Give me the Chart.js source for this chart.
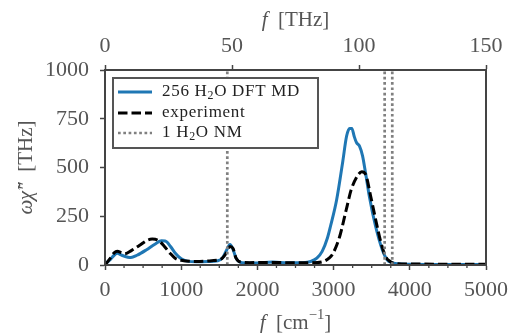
<!DOCTYPE html>
<html><head><meta charset="utf-8">
<script src="https://cdn.jsdelivr.net/npm/chart.js@4"></script>
<style>html,body{margin:0;padding:0;background:#fff}#w{width:515px;height:333px}</style>
</head><body><div id="w"><canvas id="c" width="515" height="333"></canvas></div>
<script>
// ---- data (cm^-1, THz) ----
const mdX = [0,60,120,160,220,300,340,420,540,660,740,790,860,920,1000,1080,1200,1350,1480,1540,1600,1640,1680,1720,1760,1850,2000,2200,2400,2600,2700,2780,2850,2920,2960,3040,3120,3170,3210,3240,3270,3300,3340,3380,3420,3470,3550,3640,3700,3760,3850,4000,4500,5000];
const mdY = [5,25,50,60,50,40,38,50,77,108,124,123,95,62,32,20,17,18,22,35,80,105,80,35,17,10,10,15,11,12,18,35,70,140,200,335,530,660,700,700,660,628,610,560,470,350,200,77,28,12,6,4,3,3];
const expX = [0,60,120,160,220,260,350,450,560,620,700,780,850,920,1000,1200,1400,1520,1580,1640,1680,1720,1780,1900,2100,2400,2700,2860,2940,2993,3079,3165,3230,3295,3370,3420,3488,3553,3618,3682,3747,3811,4000,5000];
const expY = [0,30,62,70,62,58,75,100,128,133,126,95,62,35,24,18,22,30,55,95,85,35,15,12,13,12,11,17,35,60,145,282,385,445,478,465,350,231,120,43,17,8,5,4];
const nmModes = [1605,3670,3770];
const seriesLabels = ['256 H₂O DFT MD','experiment','1 H₂O NM'];
const yTicksMax = 1000, xMax = 5000, thzMax = 150;

const pts = (xs, ys) => xs.map((x,i)=>({x, y: ys[i]}));
const FONT = '"Liberation Serif", "DejaVu Serif", serif';
const TXT = '#555';
const AX = '#444';
const plain = (v) => String(v);

const datasets = [
  {label: seriesLabels[0], data: pts(mdX, mdY), borderColor:'#1f77b4', borderWidth:3, pointRadius:0, cubicInterpolationMode:'monotone', order:2},
  {label: seriesLabels[1], data: pts(expX, expY), borderColor:'#000', borderWidth:3, borderDash:[9.5,4], pointRadius:0, cubicInterpolationMode:'monotone', order:1}
];
nmModes.forEach((m,i)=>datasets.push({label: i===0?seriesLabels[2]:'', data:[{x:m,y:0},{x:m,y:yTicksMax}], borderColor:'#808080', borderWidth:2.7, borderDash:[2.7,2.6], pointRadius:0, order:0}));

function setFont(ctx, p, size) {
  let s = size, st = '';
  if (p.s === 'i') st = 'italic ';
  if (p.s === 'sub' || p.s === 'sup') s = size*0.7;
  ctx.font = st + s + 'px ' + FONT;
}
function drawRich(ctx, parts, x, y, size) {
  let cx = x;
  for (const p of parts) {
    let dy = 0;
    if (p.s === 'sub') dy = size*0.22;
    if (p.s === 'sup') dy = -size*0.38;
    setFont(ctx, p, size);
    ctx.fillText(p.t, cx, y + dy);
    cx += ctx.measureText(p.t).width;
  }
  return cx - x;
}
function measureRich(ctx, parts, size) {
  let w = 0;
  for (const p of parts) { setFont(ctx, p, size); w += ctx.measureText(p.t).width; }
  return w;
}
function parseSub(str) {
  const out = [];
  str.split('₂').forEach((seg,i)=>{ if (i>0) out.push({t:'2',s:'sub'}); if (seg) out.push({t:seg,s:'n'}); });
  return out;
}

const decor = {
  id:'decor',
  afterDraw(chart) {
    const {ctx, chartArea:a} = chart;
    const xs = chart.scales.x;
    ctx.save();
    // minor ticks
    ctx.strokeStyle = AX; ctx.lineWidth = 1.3;
    for (let v = 250; v < xMax; v += 250) {
      if (v % 1000 === 0) continue;
      const px = xs.getPixelForValue(v);
      ctx.beginPath(); ctx.moveTo(px, a.bottom); ctx.lineTo(px, a.bottom + 3); ctx.stroke();
    }
    // frame
    ctx.strokeStyle = AX; ctx.lineWidth = 2;
    ctx.strokeRect(a.left, a.top, a.right - a.left, a.bottom - a.top);
    // axis titles
    ctx.fillStyle = TXT; ctx.textBaseline = 'middle'; ctx.textAlign = 'left';
    const cxm = (a.left + a.right) / 2;
    const top = [{t:'f',s:'i'},{t:'  [THz]',s:'n'}];
    drawRich(ctx, top, cxm - measureRich(ctx, top, 21)/2, 20, 21);
    const bot = [{t:'f',s:'i'},{t:'  [cm',s:'n'},{t:'−1',s:'sup'},{t:']',s:'n'}];
    drawRich(ctx, bot, cxm - measureRich(ctx, bot, 21)/2, 323, 21);
    ctx.save();
    ctx.translate(26, (a.top + a.bottom)/2);
    ctx.rotate(-Math.PI/2);
    const yl = [{t:'ωχ̃″',s:'i'},{t:'  [THz]',s:'n'}];
    drawRich(ctx, yl, -measureRich(ctx, yl, 21)/2, 0, 21);
    ctx.restore();
    // legend
    const lx = 113, ly = 78, lw = 205, lh = 70;
    ctx.fillStyle = '#fff'; ctx.fillRect(lx, ly, lw, lh);
    ctx.strokeStyle = '#555'; ctx.lineWidth = 2; ctx.strokeRect(lx, ly, lw, lh);
    const rows = [92, 113, 133];
    [datasets[0], datasets[1], datasets[2]].forEach((d, i) => {
      ctx.strokeStyle = d.borderColor; ctx.lineWidth = d.borderWidth;
      ctx.setLineDash(d.borderDash || []);
      ctx.beginPath(); ctx.moveTo(118, rows[i]); ctx.lineTo(152, rows[i]); ctx.stroke();
      ctx.setLineDash([]);
      ctx.fillStyle = '#222'; ctx.textBaseline = 'middle';
      ctx.letterSpacing = '0.7px';
      drawRich(ctx, parseSub(seriesLabels[i]), 162, rows[i], 17);
      ctx.letterSpacing = '0px';
    });
    ctx.restore();
  }
};

new Chart(document.getElementById('c'), {
  type:'line',
  data:{datasets},
  plugins:[decor],
  options:{
    responsive:false, animation:false, devicePixelRatio:1,
    layout:{padding:{left:0,right:23,top:0,bottom:0}},
    plugins:{legend:{display:false}, tooltip:{enabled:false}},
    elements:{line:{borderCapStyle:'butt'}},
    scales:{
      x:{type:'linear', position:'bottom', min:0, max:xMax,
        afterFit:(s)=>{s.height = 68;},
        ticks:{stepSize:1000, callback:plain, color:TXT, padding:7, font:{family:FONT, size:22}, maxRotation:0},
        grid:{drawOnChartArea:false, tickLength:5, tickColor:AX, tickWidth:1.5},
        border:{color:AX, width:2}},
      x2:{type:'linear', position:'top', min:0, max:thzMax,
        afterFit:(s)=>{s.height = 70;},
        ticks:{stepSize:50, callback:plain, color:TXT, padding:6, font:{family:FONT, size:22}, maxRotation:0},
        grid:{drawOnChartArea:false, tickLength:5, tickColor:AX, tickWidth:1.5},
        border:{color:AX, width:2}},
      y:{type:'linear', min:0, max:yTicksMax,
        afterFit:(s)=>{s.width = 105;},
        ticks:{stepSize:250, callback:plain, color:TXT, padding:11, font:{family:FONT, size:22}},
        grid:{drawOnChartArea:false, tickLength:5, tickColor:AX, tickWidth:1.5},
        border:{color:AX, width:2}}
    }
  }
});
</script></body></html>
